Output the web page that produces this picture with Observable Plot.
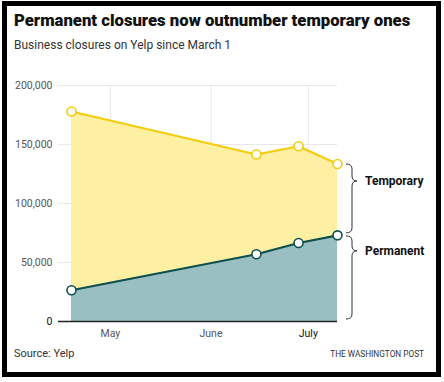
<!DOCTYPE html>
<html>
<head>
<meta charset="utf-8">
<script src="https://cdn.jsdelivr.net/npm/d3@7"></script>
<script src="https://cdn.jsdelivr.net/npm/@observablehq/plot@0.6"></script>
<style>
  html, body { margin: 0; padding: 0; background: #fff; }
  body { width: 444px; height: 382px; position: relative; overflow: hidden; font-family: Roboto, "Noto Sans", sans-serif; }
  #frame { position: absolute; left: 2px; top: 1px; width: 439px; height: 376px; border: 5px solid #000; box-sizing: border-box; }
  #title { position: absolute; left: 14px; top: 11px; font-size: 16.7px; font-weight: 900; color: #111; white-space: nowrap; letter-spacing: 0px; }
  #subtitle { position: absolute; left: 14px; top: 38px; font-size: 12px; color: #333; white-space: nowrap; }
  #chart { position: absolute; left: 0; top: 70px; }
  #source { position: absolute; left: 14px; top: 347px; font-size: 11px; color: #333; }
  #credit { position: absolute; right: 20px; top: 348px; font-size: 9.6px; color: #333; letter-spacing: 0px; transform: scaleX(0.86); transform-origin: right center; }
</style>
</head>
<body>
<div id="frame"></div>
<div id="title">Permanent closures now outnumber temporary ones</div>
<div id="subtitle">Business closures on Yelp since March 1</div>
<div id="chart"></div>
<div id="source">Source: Yelp</div>
<div id="credit">THE WASHINGTON POST</div>
<script>
const dates = ["2020-04-19", "2020-06-15", "2020-06-28", "2020-07-10"];
const permanent = [26500, 57000, 66500, 73000];
const temporary = [151500, 84500, 82000, 60500];
const yTicks = [0, 50000, 100000, 150000, 200000];
const xTicks = ["2020-05-01", "2020-06-01", "2020-07-01"];
const xTickLabels = ["May", "June", "July"];
const seriesLabels = ["Temporary", "Permanent"];

const data = dates.map((d, i) => ({
  date: new Date(d + "T00:00:00"),
  perm: permanent[i],
  total: permanent[i] + temporary[i]
}));
const xTickDates = xTicks.map(d => new Date(d + "T00:00:00"));

const yellowLine = "#f4cc0c", yellowArea = "#fdf0a2";
const tealLine = "#0f4f4c", tealArea = "#9abfc3";

const plot = Plot.plot({
  width: 444,
  height: 270,
  marginLeft: 58,
  marginRight: 107,
  marginTop: 15,
  marginBottom: 19,
  style: { fontFamily: "Roboto, sans-serif", fontSize: "10.5px", color: "#555", background: "transparent" },
  x: { type: "utc", domain: [new Date("2020-04-15T00:00:00"), new Date("2020-07-10T00:00:00")], axis: null },
  y: { domain: [0, 200000], axis: null },
  marks: [
    Plot.ruleX(xTickDates, { stroke: "#e8e8e8", strokeWidth: 1 }),
    Plot.ruleY(yTicks.slice(1), { stroke: "#e8e8e8", strokeWidth: 1 }),
    Plot.areaY(data, { x: "date", y1: "perm", y2: "total", fill: yellowArea, curve: "linear" }),
    Plot.areaY(data, { x: "date", y1: 0, y2: "perm", fill: tealArea, curve: "linear" }),
    Plot.ruleY([0], { stroke: "#222", strokeWidth: 1.5 }),
    Plot.line(data, { x: "date", y: "total", stroke: yellowLine, strokeWidth: 2.2 }),
    Plot.line(data, { x: "date", y: "perm", stroke: tealLine, strokeWidth: 2.2 }),
    Plot.dot(data, { x: "date", y: "total", r: 4.5, fill: "#fff", stroke: yellowLine, strokeWidth: 1.6 }),
    Plot.dot(data, { x: "date", y: "perm", r: 4.5, fill: "#fff", stroke: tealLine, strokeWidth: 1.6 }),
    Plot.axisY(yTicks, { tickSize: 0, tickPadding: 6, tickFormat: d => d3.format(",")(d),
      fontWeight: d => d === 0 ? "bold" : "normal", fill: d => d === 0 ? "#111" : "#555" }),
    Plot.axisX(xTickDates, { tickSize: 0, tickPadding: 8, tickFormat: (d, i) => xTickLabels[i],
      fontWeight: (d, i) => i === 2 ? "bold" : "normal", fill: (d, i) => i === 2 ? "#111" : "#555" })
  ]
});
document.getElementById("chart").appendChild(plot);

// curly-brace annotations positioned with the plot's own scales
const y = plot.scale("y");
const xs = plot.scale("x");
const last = data[data.length - 1];
const xEnd = xs.apply(last.date);
const svg = d3.select(plot);
function brace(top, bottom, tipOff, label) {
  const x0 = xEnd + 9, x1 = xEnd + 15, x2 = xEnd + 20, r = 5;
  const yt = top + tipOff;
  const p = `M${x0},${top} Q${x1},${top} ${x1},${top + r} L${x1},${yt - r} Q${x1},${yt} ${x2},${yt} ` +
            `Q${x1},${yt} ${x1},${yt + r} L${x1},${bottom - r} Q${x1},${bottom} ${x0},${bottom}`;
  svg.append("path").attr("d", p).attr("fill", "none").attr("stroke", "#333").attr("stroke-width", 1);
  svg.append("text").attr("x", xEnd + 28).attr("y", yt).attr("dy", "0.35em")
    .attr("text-anchor", "start")
    .attr("font-family", "Roboto, sans-serif").attr("font-size", 12).attr("font-weight", 700).attr("fill", "#111")
    .text(label);
}
brace(y.apply(last.total) + 0.5, y.apply(last.perm) - 2, 17, seriesLabels[0]);
brace(y.apply(last.perm) + 1, y.apply(0) - 2, 15, seriesLabels[1]);
</script>
</body>
</html>
